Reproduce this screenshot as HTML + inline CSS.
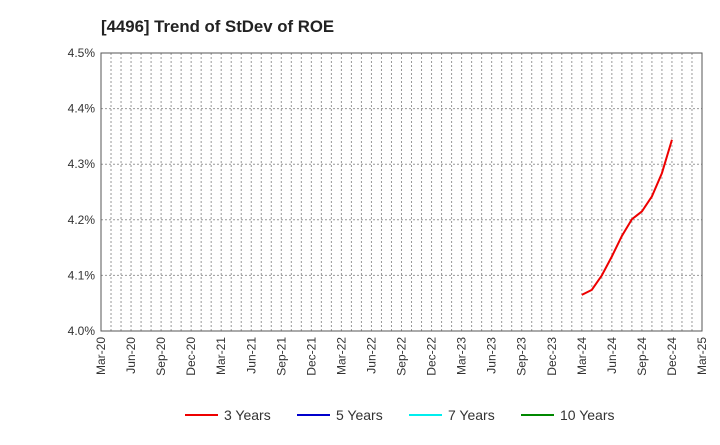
<!DOCTYPE html>
<html><head><meta charset="utf-8"><style>
body{margin:0;background:#fff;font-family:"Liberation Sans",sans-serif;}
svg text{font-family:"Liberation Sans",sans-serif;}
</style></head><body>
<svg id="chart" width="720" height="440" xmlns="http://www.w3.org/2000/svg">
<text x="101" y="32" font-size="16.8" font-weight="bold" fill="#222">[4496]  Trend of StDev of ROE</text>
<g id="grid"></g><g id="axes"></g><g id="series"></g><g id="legend"></g>
</svg>
<script>
const xLabels=["Mar-20","Jun-20","Sep-20","Dec-20","Mar-21","Jun-21","Sep-21","Dec-21","Mar-22","Jun-22","Sep-22","Dec-22","Mar-23","Jun-23","Sep-23","Dec-23","Mar-24","Jun-24","Sep-24","Dec-24","Mar-25"];
const yTicks=[4.0,4.1,4.2,4.3,4.4,4.5];
const months3=[48,49,50,51,52,53,54,55,56,57];
const values3=[4.065,4.074,4.100,4.134,4.171,4.201,4.215,4.242,4.284,4.344];
const L=101,R=702,T=53,B=331;
const xs=m=>L+(R-L)*m/60;
const ys=v=>B-(v-4.0)/0.5*(B-T);
const NS="http://www.w3.org/2000/svg";
function mk(tag,parent,attrs){const e=document.createElementNS(NS,tag);for(const k in attrs)e.setAttribute(k,attrs[k]);document.getElementById(parent).appendChild(e);return e;}
for(let m=1;m<60;m++){const e=mk('line','grid',{x1:xs(m),x2:xs(m),y1:T,y2:B,stroke:'#999','stroke-dasharray':'2,2','stroke-width':1});

}
yTicks.forEach(v=>{if(v>4.0&&v<4.5){const e=mk('line','grid',{x1:L,x2:R,y1:ys(v),y2:ys(v),stroke:'#999','stroke-dasharray':'2,2','stroke-width':1});

}
const t=mk('text','axes',{x:L-6,y:ys(v)+4,'text-anchor':'end','font-size':12,fill:'#333'});t.textContent=v.toFixed(1)+'%';

});
const fr=mk('rect','axes',{x:L,y:T,width:R-L,height:B-T,fill:'none',stroke:'#555','stroke-width':1});


xLabels.forEach((s,i)=>{const x=xs(i*3);const t=mk('text','axes',{x:x+4,y:B+6,'text-anchor':'end','font-size':12,fill:'#333',transform:`rotate(-90 ${x+4} ${B+6})`});t.textContent=s;

});
const p=mk('polyline','series',{points:months3.map((m,i)=>xs(m)+','+ys(values3[i])).join(' '),fill:'none',stroke:'#e00',"stroke-width":2});


const leg=[["3 Years","#e00",185],["5 Years","#00c",297],["7 Years","#0ee",409],["10 Years","#080",521]];
leg.forEach(([n,c,x])=>{const l=mk('line','legend',{x1:x,x2:x+33,y1:415,y2:415,stroke:c,'stroke-width':2});


const t=mk('text','legend',{x:x+39,y:420,'font-size':14,fill:'#333'});t.textContent=n;

});
</script>
</body></html>
